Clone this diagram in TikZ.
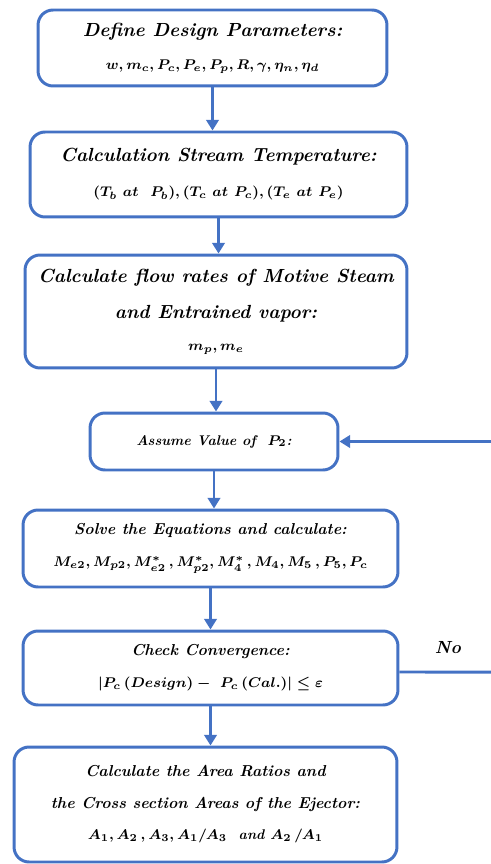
\documentclass[tikz,border=0pt]{standalone}
\usepackage{tikz}
\usetikzlibrary{arrows.meta}
\definecolor{flowblue}{RGB}{68,114,196}
\tikzset{
	stepbox/.style={draw=flowblue, line width=1.7pt, rounded corners=0.3cm, align=center, font=\fontsize{10.8}{13}\selectfont\bfseries\itshape\boldmath, inner sep=2pt},
	smallbox/.style={stepbox, font=\small\bfseries\itshape\boldmath},
	flow/.style={draw=flowblue, line width=1.7pt, -{Triangle[width=7pt,length=6pt]}},
	loopline/.style={draw=flowblue, line width=1.7pt}
}

\begin{document}
\begin{tikzpicture}[x=0.02cm, y=-0.02cm]
			%%%%% START %%%%%
			
			\useasboundingbox (0, 0) rectangle (490, 864);
			
			\node[stepbox, minimum width=6.98cm, minimum height=1.52cm] (params) at (212.5, 48)
				{Define Design Parameters: \\[6pt] \footnotesize $w, m_c, P_c, P_e, P_p, R, \gamma, \eta_n, \eta_d$};
			
			\node[stepbox, minimum width=7.54cm, minimum height=1.7cm] (temp) at (218.5, 174.5)
				{Calculation Stream Temperature: \\[7pt] \footnotesize $(T_b\ at\ \ P_b), (T_c\ at\ P_c), (T_e\ at\ P_e)$};
			
			\node[stepbox, minimum width=7.64cm, minimum height=2.26cm] (rates) at (216, 311.5)
				{Calculate flow rates of Motive Steam \\[8pt] and Entrained vapor: \\[5pt] \footnotesize $m_p, m_e$};
			
			\node[smallbox, minimum width=4.96cm, minimum height=1.14cm, font=\fontsize{8}{10}\selectfont\bfseries\itshape\boldmath] (assume) at (214, 441.5)
				{Assume Value of \ $P_2$:};
			
			\node[smallbox, minimum width=7.5cm, minimum height=1.54cm] (solve) at (210.5, 548.5)
				{Solve the Equations and calculate: \\[7pt] \footnotesize $M_{e2}, M_{p2}, M^*_{e2}\,, M^*_{p2}, M^*_4\,, M_4, M_5\,, P_5, P_c$};
			
			\node[smallbox, minimum width=7.5cm, minimum height=1.48cm] (check) at (210.5, 668)
				{Check Convergence: \\[7pt] \footnotesize $|P_c\,(Design) -\ P_c\,(Cal.)| \le \varepsilon$};
			
			\node[smallbox, minimum width=7.66cm, minimum height=2.3cm] (areas) at (205.5, 804.5)
				{Calculate the Area Ratios and \\[7pt] the Cross section Areas of the Ejector: \\[7pt] \footnotesize $A_1, A_2\,, A_3, A_1/A_3$ \ and $A_2\,/A_1$};
			
			% straight down
			\draw[flow] (params.south) -- (params.south |- temp.north);
			\draw[flow] (temp.south) -- (temp.south |- rates.north);
			\draw[flow] (rates.south) -- (rates.south |- assume.north);
			\draw[flow] (assume.south) -- (assume.south |- solve.north);
			\draw[flow] (solve.south) -- (solve.south |- check.north);
			\draw[flow] (check.south) -- (check.south |- areas.north);
			
			% back loop, its upright part lies past the page edge
			\coordinate (turnlow) at (494, 672);
			\coordinate (turnhigh) at (494, 441.5);
			\draw[loopline] ([yshift=-0.08cm]check.east) -- (turnlow) -- (turnhigh);
			\draw[flow] (turnhigh) -- (assume.east);
			\node[font=\fontsize{10}{12}\selectfont\bfseries\itshape] (nolabel) at (448, 648) {No};
			
			%%%%% END %%%%%
		\end{tikzpicture}
\end{document}
